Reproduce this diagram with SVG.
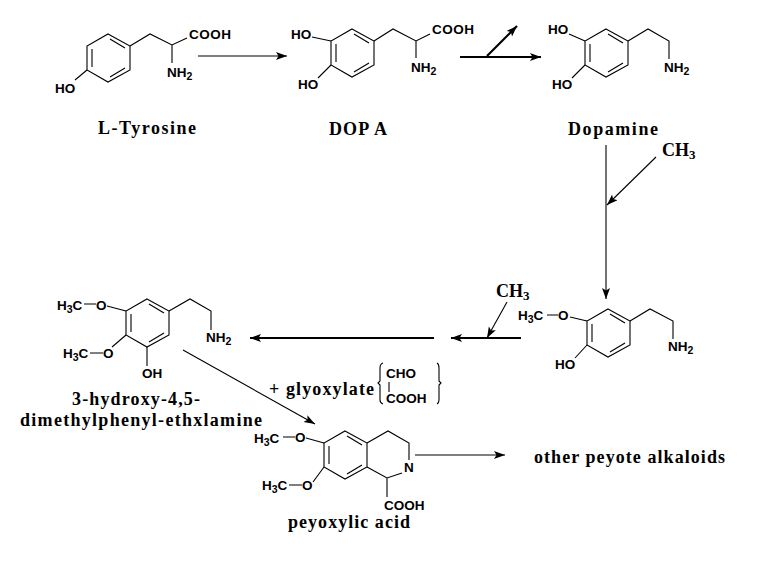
<svg xmlns="http://www.w3.org/2000/svg" xmlns:xlink="http://www.w3.org/1999/xlink" width="761" height="561" viewBox="0 0 761 561">
<style>
.b{fill:none;stroke:#000;stroke-width:1.1}
.c{fill:none;stroke:#000;stroke-width:1.1}
.t{stroke-width:2.2}
.a{font:bold 13.5px "Liberation Sans",Arial,sans-serif;fill:#000}
.l{font:bold 18px "Liberation Serif","Times New Roman",serif;fill:#000}
.s{font-size:10.5px}
</style>
<defs>
<path id="ring" class="b" d="M0,0L22,12V36L0,48L-21,36V12ZM-16,15V33M2,5L17,14M17,34L2,43"/>
<marker id="ah" markerUnits="userSpaceOnUse" markerWidth="12" markerHeight="10" refX="11" refY="4" orient="auto"><path d="M0,0L11,4L0,8L2.5,4Z" fill="#000"/></marker>
</defs>
<rect width="761" height="561" fill="#fff"/>
<g id="connectors">
<path class="c" marker-end="url(#ah)" d="M198,56H287"/>
<path class="c t" marker-end="url(#ah)" d="M460,57H541"/>
<path class="c t" marker-end="url(#ah)" d="M487,56L517,26"/>
<path class="c" marker-end="url(#ah)" d="M606,145V299"/>
<path class="c" marker-end="url(#ah)" d="M656,157L607,205"/>
<path class="c t" marker-end="url(#ah)" d="M521,338H451"/>
<path class="c" marker-end="url(#ah)" d="M507,302L487,338"/>
<path class="c t" marker-end="url(#ah)" d="M434,338H250"/>
<path class="c" marker-end="url(#ah)" d="M183,350L315,424"/>
<path class="c" marker-end="url(#ah)" d="M415,455H505"/>
</g>
<g id="tyrosine">
<use xlink:href="#ring" href="#ring" x="108" y="34"/>
<path class="b" d="M130,46L150,34L172,45L187,38M172,45V63M87,70L75,80"/>
<text class="a" x="189" y="39" textLength="42">COOH</text>
<text class="a" x="167" y="77">NH<tspan class="s" dy="3">2</tspan></text>
<text class="a" x="55" y="93">HO</text>
<text class="l" x="98" y="134" textLength="98">L-Tyrosine</text>
</g>
<g id="dopa">
<use xlink:href="#ring" href="#ring" x="352" y="29"/>
<path class="b" d="M374,41L393,29L416,41L430,34M416,41V58M312,37L331,41M318,78L331,65"/>
<text class="a" x="432" y="34" textLength="42">COOH</text>
<text class="a" x="411" y="72">NH<tspan class="s" dy="3">2</tspan></text>
<text class="a" x="291" y="39">HO</text>
<text class="a" x="298" y="89">HO</text>
<text class="l" x="329" y="135" textLength="58">DOP A</text>
</g>
<g id="dopamine">
<use xlink:href="#ring" href="#ring" x="606" y="29"/>
<path class="b" d="M628,41L648,29L669,41V59M569,34L585,41M572,78L585,65"/>
<text class="a" x="664" y="72">NH<tspan class="s" dy="3">2</tspan></text>
<text class="a" x="548" y="34">HO</text>
<text class="a" x="552" y="89">HO</text>
<text class="l" x="568" y="135" textLength="90">Dopamine</text>
</g>
<g id="ch3-top"><text class="l" x="662" y="156">CH<tspan font-size="13" dy="3">3</tspan></text></g>
<g id="ch3-mid"><text class="l" x="496" y="297">CH<tspan font-size="13" dy="3">3</tspan></text></g>
<g id="methoxy-tyramine">
<use xlink:href="#ring" href="#ring" x="608" y="309"/>
<path class="b" d="M630,321L650,309L673,321V339M547,315H558M570,317L587,321M575,358L587,345"/>
<text class="a" x="518" y="320">H<tspan class="s" dy="3">3</tspan><tspan dy="-3">C</tspan></text>
<text class="a" x="558" y="320">O</text>
<text class="a" x="668" y="351">NH<tspan class="s" dy="3">2</tspan></text>
<text class="a" x="555" y="369">HO</text>
</g>
<g id="dimethylphenyl">
<use xlink:href="#ring" href="#ring" x="147" y="299"/>
<path class="b" d="M169,311L190,299L211,311V330M84,304H96M107,306L126,311M90,353H103M112,347L126,335M147,347V366"/>
<text class="a" x="57" y="310">H<tspan class="s" dy="3">3</tspan><tspan dy="-3">C</tspan></text>
<text class="a" x="96" y="310">O</text>
<text class="a" x="63" y="358">H<tspan class="s" dy="3">3</tspan><tspan dy="-3">C</tspan></text>
<text class="a" x="103" y="358">O</text>
<text class="a" x="206" y="342">NH<tspan class="s" dy="3">2</tspan></text>
<text class="a" x="142" y="378">OH</text>
<text class="l" x="72" y="405" textLength="128">3-hydroxy-4,5-</text>
<text class="l" x="20" y="426" textLength="242">dimethylphenyl-ethxlamine</text>
</g>
<g id="glyoxylate">
<text class="l" x="269" y="395" textLength="105">+ glyoxylate</text>
<path class="b" d="M383,363Q380,364 380,368V381L378,383L380,385V400Q380,403 383,404M389,382V392M437,363Q439,364 439,368V381L441,383L439,385V400Q439,403 437,404"/>
<text class="a" x="386" y="378">CHO</text>
<text class="a" x="386" y="403">COOH</text>
</g>
<g id="peyoxylic-acid">
<use xlink:href="#ring" href="#ring" x="345" y="431"/>
<path class="b" d="M367,443L388,431L409,443V460M402,473L387,478L367,467M387,478V497M283,437H295M306,438L324,443M289,485H302M313,482L324,467"/>
<text class="a" x="254" y="443">H<tspan class="s" dy="3">3</tspan><tspan dy="-3">C</tspan></text>
<text class="a" x="295" y="442">O</text>
<text class="a" x="262" y="490">H<tspan class="s" dy="3">3</tspan><tspan dy="-3">C</tspan></text>
<text class="a" x="302" y="490">O</text>
<text class="a" x="404" y="472">N</text>
<text class="a" x="384" y="510">COOH</text>
<text class="l" x="288" y="528" textLength="122">peyoxylic acid</text>
</g>
<g id="other-alkaloids"><text class="l" x="534" y="463" textLength="191">other peyote alkaloids</text></g>
</svg>
